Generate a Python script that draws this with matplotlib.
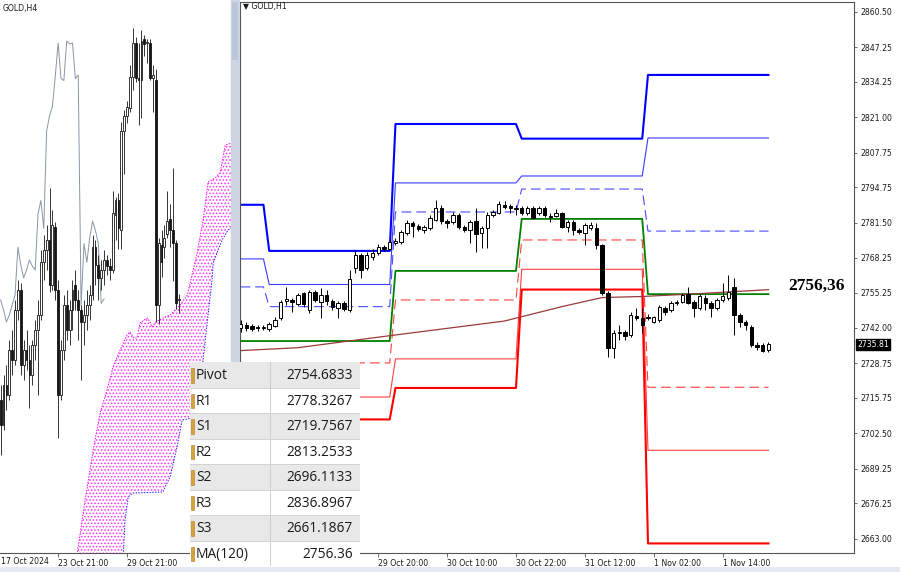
import numpy as np
import matplotlib
matplotlib.use('Agg')
import matplotlib.pyplot as plt
from matplotlib.patches import Rectangle, Polygon

plt.rcParams['lines.scale_dashes'] = False
plt.rcParams['hatch.linewidth'] = 0.7

# ---------------- H1 (right panel) candles ----------------
h1_open = [2742.0, 2743.1, 2742.75, 2742.0, 2742.0, 2741.6, 2742.75, 2745.75, 2752.1, 2752.5,
           2751.0, 2755.1, 2748.75, 2755.5, 2751.75, 2754.4, 2752.1, 2749.5, 2751.4, 2748.75,
           2764.5, 2769.4, 2764.5, 2768.6, 2770.1, 2772.4, 2771.6, 2773.9, 2774.25, 2777.6,
           2781.4, 2780.25, 2778.75, 2779.5, 2782.5, 2787.0, 2782.1, 2781.75, 2784.4, 2779.9,
           2778.75, 2782.1, 2777.6, 2779.5, 2784.4, 2785.1, 2788.1, 2787.75, 2787.0, 2787.0,
           2785.1, 2787.0, 2785.1, 2787.0, 2784.0, 2784.0, 2785.1, 2779.9, 2781.75, 2778.75,
           2777.6, 2779.5, 2779.5, 2773.1, 2755.1, 2734.5, 2740.1, 2740.5, 2739.4, 2746.5,
           2745.75, 2746.1, 2744.25, 2745.0, 2749.5, 2748.75, 2751.4, 2751.75, 2754.75, 2751.75,
           2749.5, 2753.25, 2751.4, 2749.5, 2752.5, 2753.25, 2757.4, 2746.9, 2744.25, 2742.4,
           2735.6, 2735.6, 2733.75]
h1_high = [2745.0, 2744.25, 2743.5, 2743.1, 2743.1, 2744.25, 2746.1, 2752.5, 2757.4, 2753.25,
           2755.1, 2755.5, 2756.25, 2756.25, 2757.0, 2756.25, 2752.9, 2752.1, 2752.1, 2763.75,
           2771.25, 2770.1, 2770.5, 2771.6, 2773.5, 2773.1, 2775.4, 2775.75, 2778.75, 2782.5,
           2782.1, 2781.0, 2780.6, 2784.4, 2790.0, 2788.1, 2782.9, 2785.5, 2785.1, 2780.6,
           2782.5, 2787.0, 2780.25, 2785.5, 2786.25, 2789.6, 2789.6, 2788.5, 2788.1, 2787.75,
           2787.75, 2787.75, 2787.75, 2787.75, 2785.1, 2786.6, 2785.5, 2782.5, 2782.5, 2779.5,
           2781.4, 2781.75, 2781.4, 2773.5, 2755.9, 2741.25, 2743.1, 2741.25, 2748.0, 2749.5,
           2749.5, 2747.25, 2746.5, 2750.6, 2750.25, 2752.1, 2752.5, 2755.1, 2757.4, 2752.5,
           2754.75, 2754.4, 2752.1, 2753.25, 2758.9, 2761.9, 2760.75, 2747.6, 2745.0, 2743.1,
           2736.75, 2736.4, 2736.75]
h1_low = [2740.5, 2740.9, 2740.9, 2740.9, 2741.25, 2740.9, 2742.4, 2745.0, 2750.6, 2748.0,
          2750.25, 2749.9, 2747.6, 2751.75, 2745.75, 2750.6, 2748.75, 2745.75, 2748.4, 2748.0,
          2762.6, 2760.75, 2763.75, 2767.5, 2769.4, 2770.9, 2771.25, 2773.1, 2773.5, 2776.9,
          2776.1, 2778.4, 2777.6, 2778.75, 2782.1, 2781.0, 2779.5, 2781.0, 2779.1, 2778.0,
          2773.9, 2770.5, 2772.0, 2772.0, 2783.6, 2784.75, 2786.6, 2785.1, 2784.4, 2784.4,
          2784.4, 2782.9, 2784.4, 2783.6, 2781.75, 2783.6, 2779.5, 2778.0, 2776.9, 2777.25,
          2773.1, 2778.75, 2771.6, 2754.4, 2731.1, 2730.75, 2737.5, 2737.5, 2738.6, 2745.0,
          2740.1, 2745.0, 2743.9, 2744.25, 2746.9, 2748.0, 2750.6, 2751.4, 2751.0, 2746.1,
          2748.75, 2748.75, 2746.1, 2748.75, 2751.75, 2752.5, 2739.4, 2742.4, 2741.25, 2734.9,
          2733.75, 2733.0, 2733.0]
h1_close = [2743.5, 2742.0, 2741.6, 2742.4, 2742.2, 2743.5, 2745.0, 2751.75, 2752.9, 2751.6,
            2754.4, 2751.0, 2755.5, 2752.5, 2754.4, 2752.1, 2749.9, 2751.4, 2749.1, 2760.4,
            2769.4, 2763.75, 2769.4, 2770.1, 2772.4, 2771.6, 2774.25, 2774.6, 2778.0, 2781.4,
            2780.25, 2779.1, 2779.9, 2783.25, 2787.0, 2782.1, 2781.4, 2784.4, 2779.9, 2778.75,
            2781.75, 2777.25, 2779.5, 2784.4, 2785.5, 2788.5, 2787.4, 2787.0, 2786.8, 2785.1,
            2787.0, 2783.25, 2787.0, 2784.4, 2783.8, 2785.1, 2779.9, 2781.75, 2778.75, 2778.0,
            2780.6, 2780.6, 2773.1, 2755.1, 2734.5, 2740.1, 2740.5, 2739.0, 2746.9, 2745.75,
            2743.1, 2745.9, 2746.1, 2749.9, 2748.0, 2751.4, 2751.6, 2754.4, 2751.4, 2749.5,
            2754.0, 2751.4, 2749.5, 2752.5, 2754.0, 2755.5, 2746.9, 2744.25, 2743.1, 2735.6,
            2734.9, 2733.4, 2735.81]

# daily pivot levels (days: 28 Oct tail, 29 Oct, 30 Oct, 31 Oct, 1 Nov)
day_len = [5, 22, 22, 22, 22]
lvl_r3 = [2788.2, 2770.9, 2818.5, 2813.0, 2836.8967]
lvl_r2 = [2767.9, 2758.3, 2796.4, 2799.0, 2813.2533]
lvl_r1 = [2757.4, 2750.0, 2785.5, 2794.1, 2778.3267]
lvl_pp = [2737.1, 2737.1, 2763.4, 2782.9, 2754.6833]
lvl_s1 = [2726.4, 2728.9, 2752.5, 2775.0, 2719.7567]
lvl_s2 = [2706.1, 2716.1, 2730.4, 2764.0, 2696.1133]
lvl_s3 = [2695.5, 2707.7, 2719.5, 2756.4, 2661.1867]

# MA(120) read at a few bars
ma_bar = [0, 10, 26, 46, 56, 63, 70, 80, 92]
ma_val = [2733.5, 2734.6, 2739.1, 2744.6, 2750.0, 2753.4, 2753.8, 2754.9, 2756.36]

h1_ytick_vals = [2860.50, 2847.25, 2834.25, 2821.00, 2807.75, 2794.75, 2781.50, 2768.25,
                 2755.25, 2742.00, 2728.75, 2715.75, 2702.50, 2689.25, 2676.25, 2663.00]
h1_xtick_bars = [24, 36, 48, 60, 72, 84]
h1_xtick_labels = ['29 Oct 20:00', '30 Oct 10:00', '30 Oct 22:00', '31 Oct 12:00',
                   '1 Nov 02:00', '1 Nov 14:00']

# ---------------- H4 (left panel) candles ----------------
h4_open = [2715.6, 2710.6, 2718.6, 2716.6, 2725.6, 2723.6, 2733.6, 2737.6, 2722.6, 2725.6,
           2723.6, 2720.6, 2726.6, 2729.6, 2732.6, 2743.2, 2745.6, 2747.6, 2738.6, 2750.2,
           2737.6, 2716.6, 2725.6, 2734.6, 2729.6, 2733.6, 2738.6, 2735.6, 2733.6, 2731.2,
           2732.6, 2734.6, 2736.6, 2746.2, 2742.6, 2740.0, 2741.6, 2743.6, 2742.4, 2741.6,
           2752.5, 2755.5, 2749.5, 2769.4, 2772.4, 2773.9, 2780.25, 2787.0, 2779.9, 2779.5,
           2787.75, 2787.0, 2787.0, 2779.9, 2779.5, 2734.5, 2746.5, 2746.1, 2748.75, 2751.75,
           2749.5, 2746.9, 2735.6]
h4_high = [2718.6, 2720.6, 2722.6, 2727.6, 2729.6, 2735.6, 2739.6, 2739.0, 2727.6, 2729.6,
           2726.6, 2727.6, 2731.6, 2735.6, 2745.6, 2748.6, 2750.6, 2758.0, 2753.6, 2751.2,
           2739.6, 2727.6, 2736.6, 2737.6, 2735.6, 2739.6, 2741.6, 2737.6, 2734.6, 2735.6,
           2737.6, 2738.6, 2748.6, 2747.6, 2744.6, 2743.6, 2745.6, 2744.6, 2744.0, 2757.4,
           2756.25, 2757.0, 2771.25, 2773.5, 2775.4, 2782.5, 2790.0, 2788.1, 2787.0, 2789.6,
           2788.5, 2787.75, 2787.75, 2782.5, 2781.75, 2748.0, 2749.5, 2750.6, 2757.4, 2754.75,
           2761.9, 2747.6, 2736.75]
h4_low = [2704.6, 2709.6, 2713.6, 2715.6, 2720.6, 2722.6, 2731.6, 2720.6, 2719.6, 2721.6,
          2714.0, 2718.6, 2723.6, 2716.6, 2731.6, 2739.6, 2741.6, 2737.2, 2737.6, 2735.6,
          2708.0, 2715.6, 2723.6, 2727.6, 2726.6, 2729.6, 2733.6, 2727.6, 2719.6, 2726.6,
          2729.6, 2731.6, 2735.6, 2738.6, 2735.6, 2737.6, 2738.6, 2740.6, 2739.6, 2740.9,
          2747.6, 2745.75, 2745.75, 2760.75, 2770.9, 2773.1, 2777.6, 2779.1, 2770.5, 2772.0,
          2784.4, 2782.9, 2779.5, 2773.1, 2731.1, 2730.75, 2740.1, 2743.9, 2748.0, 2746.1,
          2739.4, 2733.75, 2733.0]
h4_close = [2710.6, 2718.6, 2716.6, 2725.6, 2723.6, 2733.6, 2737.6, 2722.6, 2725.6, 2723.6,
            2720.6, 2726.6, 2729.6, 2732.6, 2743.2, 2745.6, 2747.6, 2738.6, 2750.6, 2737.6,
            2716.6, 2725.6, 2734.6, 2729.6, 2733.6, 2737.6, 2735.6, 2733.6, 2731.2, 2732.6,
            2734.6, 2736.6, 2746.2, 2742.6, 2740.0, 2741.6, 2743.6, 2742.4, 2741.6, 2752.9,
            2755.5, 2749.9, 2769.4, 2772.4, 2774.25, 2780.25, 2787.0, 2779.9, 2779.5, 2787.4,
            2786.8, 2787.0, 2779.9, 2780.6, 2734.5, 2746.9, 2743.1, 2748.0, 2751.4, 2749.5,
            2746.9, 2734.9, 2735.81]
chikou_shift = 26

# Ichimoku cloud spans (bar position, price)
span_up_x = [26.3, 29.4, 32.2, 34.6, 37.0, 39.1, 41.6, 44.0, 45.0, 46.4, 47.5, 48.5, 51.0,
             52.0, 52.7, 54.0, 56.5, 59.0, 62.5, 65.0, 68.4, 70.5, 72.2, 74.7, 76.4, 78.2, 80.5]
span_up_y = [2683.6, 2695.6, 2705.6, 2713.0, 2717.6, 2722.2, 2725.6, 2728.6, 2729.2, 2728.0,
             2728.0, 2731.0, 2732.0, 2731.2, 2730.2, 2731.2, 2732.0, 2732.6, 2734.6, 2736.6,
             2745.0, 2751.6, 2759.2, 2760.0, 2761.0, 2766.6, 2767.0]
span_lo_x = [42.6, 43.3, 44.4, 46.0, 56.5, 57.6, 59.0, 61.4, 63.2, 66.7, 68.7, 70.5, 71.9,
             73.6, 74.0, 77.1, 79.2, 80.5]
span_lo_y = [2683.6, 2691.6, 2696.2, 2697.0, 2697.2, 2698.6, 2700.2, 2706.2, 2711.6, 2712.0,
             2716.6, 2723.6, 2731.0, 2739.6, 2743.0, 2747.6, 2749.6, 2750.0]

h4_xtick_bars = [20, 44]
h4_xtick_labels = ['23 Oct 21:00', '29 Oct 21:00']
h4_first_label = '17 Oct 2024'

# table
tbl_names = ['Pivot', 'R1', 'S1', 'R2', 'S2', 'R3', 'S3', 'MA(120)']
tbl_values = ['2754.6833', '2778.3267', '2719.7567', '2813.2533', '2696.1133',
              '2836.8967', '2661.1867', '2756.36']

# ---------------- figure ----------------
W, H = 900, 572
fig = plt.figure(figsize=(9, 5.72), dpi=100)
fig.patch.set_facecolor('white')


def box(x0, y0, x1, y1):
    return [x0 / W, 1 - y1 / H, (x1 - x0) / W, (y1 - y0) / H]


TXT = '#1a1a1a'
FS = 5.6


def draw_candles(ax, o, h, l, c, width, lw, minh, col='black'):
    o, h, l, c = map(np.asarray, (o, h, l, c))
    idx = np.arange(len(o))
    ax.vlines(idx, l, h, color=col, lw=lw, zorder=3)
    up = c >= o
    bottom = np.minimum(o, c)
    height = np.maximum(np.abs(c - o), minh)
    ax.bar(idx[up], height[up], bottom=bottom[up], width=width, color='white',
           edgecolor=col, linewidth=lw, zorder=4)
    ax.bar(idx[~up], height[~up], bottom=bottom[~up], width=width, color=col,
           edgecolor=col, linewidth=lw, zorder=4)


# ---------- left panel (H4) ----------
axL = fig.add_axes(box(0, 2, 231, 553))
axL.set_xlim(-0.24, 80.2)
axL.set_ylim(2685.0, 2795.2)
for s in ['left', 'top']:
    axL.spines[s].set_visible(False)
for s in ['right', 'bottom']:
    axL.spines[s].set_color('#555555')
    axL.spines[s].set_linewidth(0.8)
axL.set_yticks([])

poly_pts = list(zip(span_up_x, span_up_y)) + list(zip(span_lo_x[::-1], span_lo_y[::-1]))
cloud = Polygon(poly_pts, closed=True, facecolor='none', edgecolor='#ff2cff',
                linewidth=0, hatch='.....', zorder=1)
axL.add_patch(cloud)
axL.plot(span_up_x, span_up_y, color='#ff00ff', lw=0.7, ls=(0, (1, 1)), zorder=2)
axL.plot(span_lo_x, span_lo_y, color='#2020ff', lw=0.7, ls=(0, (1, 1)), zorder=2)

chik_x = np.arange(len(h4_close) - chikou_shift)
axL.plot(chik_x, h4_close[chikou_shift:], color='#8796a6', lw=0.7, zorder=2)
draw_candles(axL, h4_open, h4_high, h4_low, h4_close, 0.62, 0.6, 0.15, col='#151515')

axL.set_xticks(h4_xtick_bars)
axL.set_xticklabels(h4_xtick_labels)
axL.tick_params(axis='x', length=3, width=0.6, color='#555555', labelsize=FS,
                labelcolor=TXT, pad=1.5)
for t in axL.get_xticklabels():
    t.set_horizontalalignment('left')
fig.text(1 / W, 1 - 561 / H, h4_first_label, fontsize=FS, color=TXT, ha='left',
         va='center')

# ---------- right panel (H1) ----------
axR = fig.add_axes(box(240, 2, 854, 553))
axR.set_xlim(-0.09, 106.9)
axR.set_ylim(2657.6, 2864.25)
for s in axR.spines.values():
    s.set_color('#555555')
    s.set_linewidth(0.8)

bars = np.arange(len(h1_close))
dash = (0, (7.0, 3.6))
axR.plot(bars, np.repeat(lvl_r3, day_len), color='#0000ff', lw=1.5, zorder=2)
axR.plot(bars, np.repeat(lvl_r2, day_len), color='#3b3bff', lw=0.8, zorder=2)
axR.plot(bars, np.repeat(lvl_r1, day_len), color='#4a4aff', lw=0.8, ls=dash, zorder=2)
axR.plot(bars, np.repeat(lvl_pp, day_len), color='#008000', lw=1.3, zorder=2)
axR.plot(bars, np.repeat(lvl_s1, day_len), color='#ff4040', lw=0.8, ls=dash, zorder=2)
axR.plot(bars, np.repeat(lvl_s2, day_len), color='#ff4040', lw=0.8, zorder=2)
axR.plot(bars, np.repeat(lvl_s3, day_len), color='#ff0000', lw=1.5, zorder=2)
axR.plot(ma_bar, ma_val, color='#9a3a3a', lw=0.9, zorder=2.5)

draw_candles(axR, h1_open, h1_high, h1_low, h1_close, 0.6, 0.7, 0.12)

axR.yaxis.tick_right()
axR.set_yticks(h1_ytick_vals)
axR.set_yticklabels(['%.2f' % v for v in h1_ytick_vals])
axR.tick_params(axis='y', length=2.5, width=0.6, color='#555555', labelsize=FS,
                labelcolor=TXT, pad=2)
axR.set_xticks(h1_xtick_bars)
axR.set_xticklabels(h1_xtick_labels)
axR.tick_params(axis='x', length=3, width=0.6, color='#555555', labelsize=FS,
                labelcolor=TXT, pad=1.5)
for t in axR.get_xticklabels():
    t.set_horizontalalignment('left')

axR.text(100.3, ma_val[-1] + 1.6, '2756,36', family='Liberation Serif', weight='bold',
         fontsize=12.5, ha='center', va='center', color='black', zorder=6)

# current price marker
fig.text(857 / W, 1 - 344.5 / H, '%.2f' % h1_close[-1], fontsize=FS, color='white',
         ha='left', va='center',
         bbox=dict(boxstyle='square,pad=0.18', fc='black', ec='black'))

# titles
fig.text(3 / W, 1 - 8 / H, 'GOLD,H4', fontsize=FS, color=TXT, ha='left', va='center')
fig.text(243 / W, 1 - 7 / H, '\u25BC GOLD,H1', fontsize=FS, color=TXT, ha='left',
         va='center')

# separator between panels
fig.patches.append(Rectangle((231 / W, 1 - 362 / H), 9 / W, 362 / H, transform=fig.transFigure,
                             facecolor='#ccd5e1', edgecolor='none', zorder=5))
fig.patches.append(Rectangle((232 / W, 1 - 60 / H), 6 / W, 58 / H, transform=fig.transFigure,
                             facecolor='#b9c7d9', edgecolor='none', zorder=5))
# bottom status band
fig.patches.append(Rectangle((0, 0), 1, 5 / H, transform=fig.transFigure,
                             facecolor='#e4eaf2', edgecolor='none', zorder=5))

# ---------- data window table ----------
tab = fig.add_axes(box(190, 362, 360, 566))
tab.set_zorder(10)
tab.set_xlim(190, 360)
tab.set_ylim(566, 362)
tab.axis('off')
row_h = (566 - 362) / len(tbl_names)
for k, (nm, vv) in enumerate(zip(tbl_names, tbl_values)):
    y0 = 362 + k * row_h
    fc = '#e8e8e8' if k % 2 == 0 else '#ffffff'
    tab.add_patch(Rectangle((190, y0), 170, row_h, facecolor=fc, edgecolor='none'))
    tab.plot([190, 360], [y0 + row_h, y0 + row_h], color='#d2d2d2', lw=0.7)
    tab.add_patch(Rectangle((190.5, y0 + 6), 3.2, row_h - 11, facecolor='#d9a13a',
                            edgecolor='#b07a20', linewidth=0.4))
    tab.text(196, y0 + row_h / 2 + 1, nm, family='Open Sans', fontsize=9.9, color=TXT,
             ha='left', va='center')
    tab.text(353, y0 + row_h / 2 + 1, vv, family='Open Sans', fontsize=9.9, color=TXT,
             ha='right', va='center')
tab.plot([270, 270], [362, 566], color='#cfcfcf', lw=0.7)

fig.savefig('out.png', dpi=100)
